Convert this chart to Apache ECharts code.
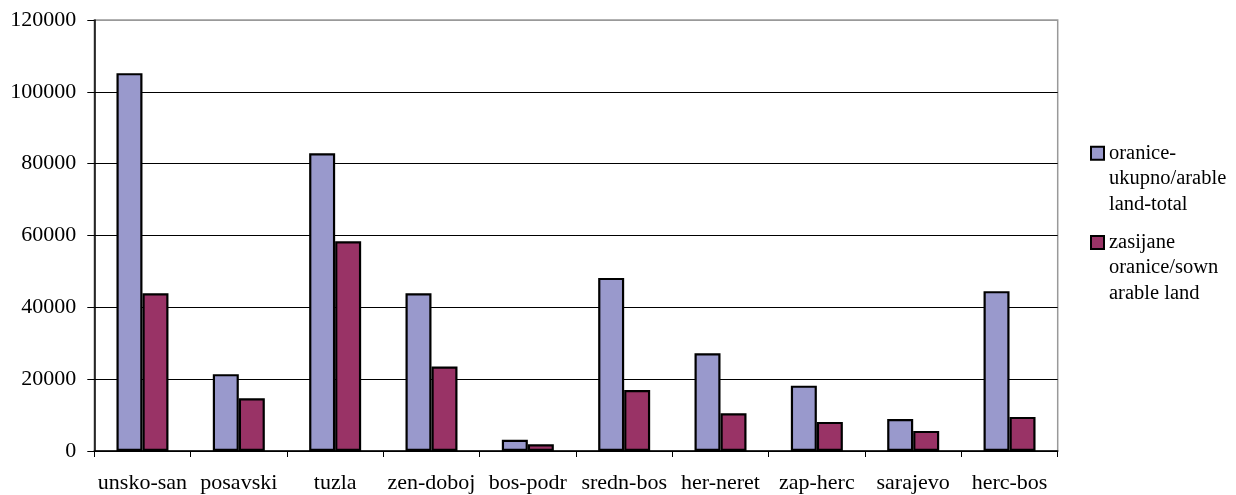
<!DOCTYPE html>
<html>
<head>
<meta charset="utf-8">
<script src="https://cdn.jsdelivr.net/npm/echarts@6/dist/echarts.min.js"></script>
<style>
html,body{margin:0;padding:0;background:#fff;}
#chart{width:1236px;height:495px;}
</style>
</head>
<body>
<div id="chart"></div>
<script>
const categories = ['unsko-san','posavski','tuzla','zen-doboj','bos-podr','sredn-bos','her-neret','zap-herc','sarajevo','herc-bos'];
const seriesNames = ['oranice-\nukupno/arable\nland-total', 'zasijane\noranice/sown\narable land'];
const arableTotal = [105200, 21400, 82900, 43900, 3100, 48200, 27200, 18200, 8900, 44500];
const arableSown  = [43900, 14700, 58400, 23500, 1900, 17000, 10500, 8100, 5600, 9500];
const yTicks = [0, 20000, 40000, 60000, 80000, 100000, 120000];

const FONT = '"Liberation Serif", "Times New Roman", serif';
const chart = echarts.init(document.getElementById('chart'), null, {renderer:'canvas'});
const iconPath = 'path://M0,0 M0,6.25 L13,6.25 L13,19.25 L0,19.25 Z M0,76.5';
chart.setOption({
  animation: false,
  backgroundColor: '#fff',
  grid: {left: 94.3, right: 178.3, top: 20, bottom: 44, show: true, borderColor: '#999', borderWidth: 1.5, backgroundColor: 'transparent'},
  legend: {
    orient: 'vertical',
    left: 1085,
    top: 134.5,
    itemGap: 10.7,
    itemWidth: 13,
    itemHeight: 76.5,
    icon: iconPath,
    textStyle: {fontFamily: FONT, fontSize: 20.5, lineHeight: 25.5, color: '#000'},
    data: seriesNames
  },
  xAxis: {
    type: 'category',
    data: categories,
    boundaryGap: true,
    axisLine: {lineStyle: {color: '#000', width: 1.5}},
    axisTick: {show: true, length: 6, lineStyle: {color: '#000', width: 1}},
    axisLabel: {fontFamily: FONT, fontSize: 22, color: '#000', margin: 21, interval: 0}
  },
  yAxis: {
    type: 'value',
    min: yTicks[0],
    max: yTicks[yTicks.length-1],
    interval: yTicks[1]-yTicks[0],
    axisLine: {show: true, lineStyle: {color: '#000', width: 1.5}},
    axisTick: {show: true, length: 7, lineStyle: {color: '#000', width: 1}},
    axisLabel: {fontFamily: FONT, fontSize: 22, color: '#000', margin: 18, formatter: function(v){ return String(v); }},
    splitLine: {show: true, lineStyle: {color: ['#000','#000','#000','#000','#000','#000','#999'], width: 1}}
  },
  series: [
    {name: seriesNames[0], type: 'bar', data: arableTotal, barWidth: 26, barGap: '0%',
     itemStyle: {color: '#9999CC', borderColor: '#000', borderWidth: 2.2}},
    {name: seriesNames[1], type: 'bar', data: arableSown, barWidth: 26, barGap: '0%',
     itemStyle: {color: '#993366', borderColor: '#000', borderWidth: 2.2}}
  ]
});
</script>
</body>
</html>
